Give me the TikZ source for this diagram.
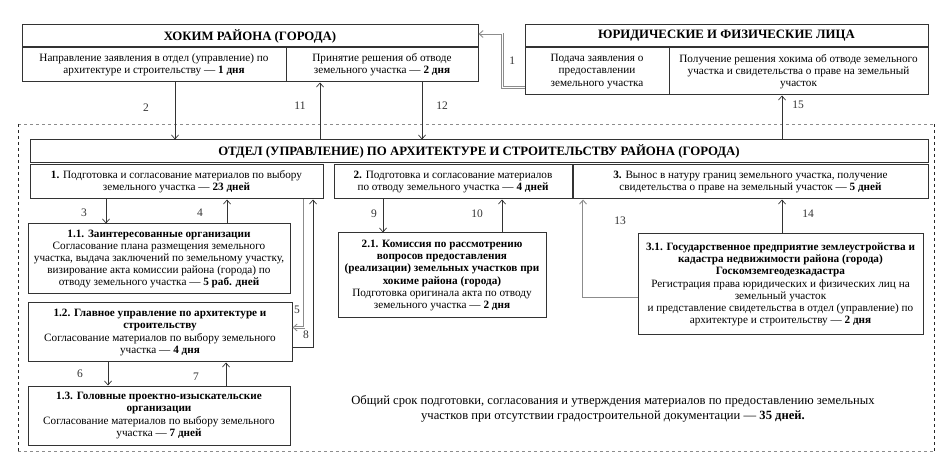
\documentclass[tikz,border=0pt]{standalone}
\usepackage{fontspec}
\setmainfont{Liberation Serif}
\usepackage{tikz}
\usetikzlibrary{arrows.meta, calc}

\begin{document}
\begin{tikzpicture}[x=1pt, y=-1pt,
        box/.style={draw=black!80, line width=1pt, align=center, inner sep=1pt, font=\fontsize{11.2}{12.2}\selectfont},
        head/.style={box, font=\fontsize{12.8}{14}\selectfont\bfseries},
        link/.style={-{Straight Barb[length=4pt, width=7pt]}, black!80, line width=0.7pt},
        dlink/.style={link, draw=black!45, double=white, double distance=1pt, line width=0.9pt},
        num/.style={font=\fontsize{11.5}{12}\selectfont}
    ]
    \useasboundingbox (0,0) rectangle (940,470);

    % Outer dashed frame
    \draw[black!45, dashed, double=white, double distance=1pt, line width=0.9pt] (18,124) -- (934,124);
    \draw[black!45, dashed, double=white, double distance=1pt, line width=0.9pt] (18,452) -- (934,452);
    \draw[black!85, dashed, line width=1pt] (18,124) -- (18,452);
    \draw[black!85, dashed, line width=1pt] (934,124) -- (934,452);

    % Hokim
    \node[head, minimum width=456, minimum height=22] (hokimT) at (250,36) {ХОКИМ РАЙОНА (ГОРОДА)};
    \node[box, minimum width=264, minimum height=34] (hokimL) at (154,65) {Направление заявления в отдел (управление) по\\ архитектуре и строительству --- \textbf{1 дня}};
    \node[box, minimum width=192, minimum height=34] (hokimR) at (382,65) {Принятие решения об отводе\\ земельного участка --- \textbf{2 дня}};

    % Applicants
    \node[head, minimum width=403, minimum height=22] (yurT) at (726.5,36) {ЮРИДИЧЕСКИЕ И ФИЗИЧЕСКИЕ ЛИЦА};
    \node[box, minimum width=144, minimum height=47] (yurL) at (597,71.5) {Подача заявления о\\ предоставлении\\ земельного участка};
    \node[box, minimum width=259, minimum height=47] (yurR) at (798.5,71.5) {Получение решения хокима об отводе земельного\\ участка и свидетельства о праве на земельный\\ участок};

    % Department
    \node[head, minimum width=898, minimum height=23] (otdel) at (479,151.5) {ОТДЕЛ (УПРАВЛЕНИЕ) ПО АРХИТЕКТУРЕ И СТРОИТЕЛЬСТВУ РАЙОНА (ГОРОДА)};
    \node[box, minimum width=293, minimum height=34] (step1) at (176.5,182) {\textbf{1.} Подготовка и согласование материалов по выбору\\ земельного участка --- \textbf{23 дней}};
    \node[box, minimum width=238, minimum height=34] (step2) at (453,182) {\textbf{2.} Подготовка и согласование материалов\\ по отводу земельного участка --- \textbf{4 дней}};
    \node[box, minimum width=355, minimum height=34] (step3) at (750.5,182) {\textbf{3.} Вынос в натуру границ земельного участка, получение\\ свидетельства о праве на земельный участок --- \textbf{5 дней}};

    % Sub-steps
    \node[box, minimum width=262, minimum height=70] (org11) at (159,259) {\textbf{1.1. Заинтересованные организации}\\ Согласование плана размещения земельного\\ участка, выдача заключений по земельному участку,\\ визирование акта комиссии района (города) по\\ отводу земельного участка --- \textbf{5 раб. дней}};
    \node[box, minimum width=264, minimum height=59] (org12) at (160,332.5) {\textbf{1.2. Главное управление по архитектуре и}\\ \textbf{строительству}\\ Согласование материалов по выбору земельного\\ участка --- \textbf{4 дня}};
    \node[box, minimum width=262, minimum height=59] (org13) at (159,415.5) {\textbf{1.3. Головные проектно-изыскательские}\\ \textbf{организации}\\ Согласование материалов по выбору земельного\\ участка --- \textbf{7 дней}};
    \node[box, minimum width=208, minimum height=85] (org21) at (442,275.5) {\textbf{2.1. Комиссия по рассмотрению}\\ \textbf{вопросов предоставления}\\ \textbf{(реализации) земельных участков при}\\ \textbf{хокиме района (города)}\\ Подготовка оригинала акта по отводу\\ земельного участка --- \textbf{2 дня}};
    \node[box, minimum width=285, minimum height=101] (org31) at (780.5,284.5) {\textbf{3.1. Государственное предприятие землеустройства и}\\ \textbf{кадастра недвижимости района (города)}\\ \textbf{Госкомземгеодезкадастра}\\ Регистрация права юридических и физических лиц на\\ земельный участок\\ и представление свидетельства в отдел (управление) по\\ архитектуре и строительству --- \textbf{2 дня}};

    % Total
    \node[align=center, font=\fontsize{12.6}{14.5}\selectfont] (total) at (613,409) {Общий срок подготовки, согласования и утверждения материалов по предоставлению земельных\\ участков при отсутствии градостроительной документации --- \textbf{35 дней.}};

    % Connectors
    \draw[dlink] ([yshift=8]yurL.south west) -- ++(-22,0) |- node[num, pos=0.25, right=3pt] {1} ([yshift=2]hokimT.east);
    \draw[link] (175,0 |- hokimL.south) -- node[num, pos=0.44, xshift=-29] {2} (175,0 |- otdel.north);
    \draw[link] (320,0 |- otdel.north) -- node[num, pos=0.59, xshift=-20] {11} (320,0 |- hokimR.south);
    \draw[link] (422,0 |- hokimR.south) -- node[num, pos=0.41, xshift=20] {12} (422,0 |- otdel.north);
    \draw[link] (782,0 |- otdel.north) -- node[num, pos=0.78, xshift=16] {15} (782,0 |- yurR.south);

    \draw[link] (106,0 |- step1.south) -- node[num, pos=0.56, xshift=-22] {3} (106,0 |- org11.north);
    \draw[link] (227,0 |- org11.north) -- node[num, pos=0.44, xshift=-27] {4} (227,0 |- step1.south);
    \draw[dlink] (304,0 |- step1.south) |- node[num, pos=0.43, xshift=-7] {5} ([yshift=5]org12.east);
    \draw[link] ([yshift=-14.5]org12.east) -| node[num, pos=0.54, xshift=-7] {8} (313,0 |- step1.south);
    \draw[link] (108,0 |- org12.south) -- node[num, pos=0.5, xshift=-28] {6} (108,0 |- org13.north);
    \draw[link] (226,0 |- org13.north) -- node[num, pos=0.375, xshift=-30] {7} (226,0 |- org12.south);

    \draw[link] (383,0 |- step2.south) -- node[num, pos=0.44, xshift=-9] {9} (383,0 |- org21.north);
    \draw[link] (502,0 |- org21.north) -- node[num, pos=0.56, xshift=-25] {10} (502,0 |- step2.south);

    \draw[dlink] ([yshift=-12.5]org31.west) -| node[num, pos=0.89, xshift=37] {13} (583,0 |- step3.south);
    \draw[link] (782,0 |- org31.north) -- node[num, pos=0.57, xshift=26] {14} (782,0 |- step3.south);

\end{tikzpicture}
\end{document}
